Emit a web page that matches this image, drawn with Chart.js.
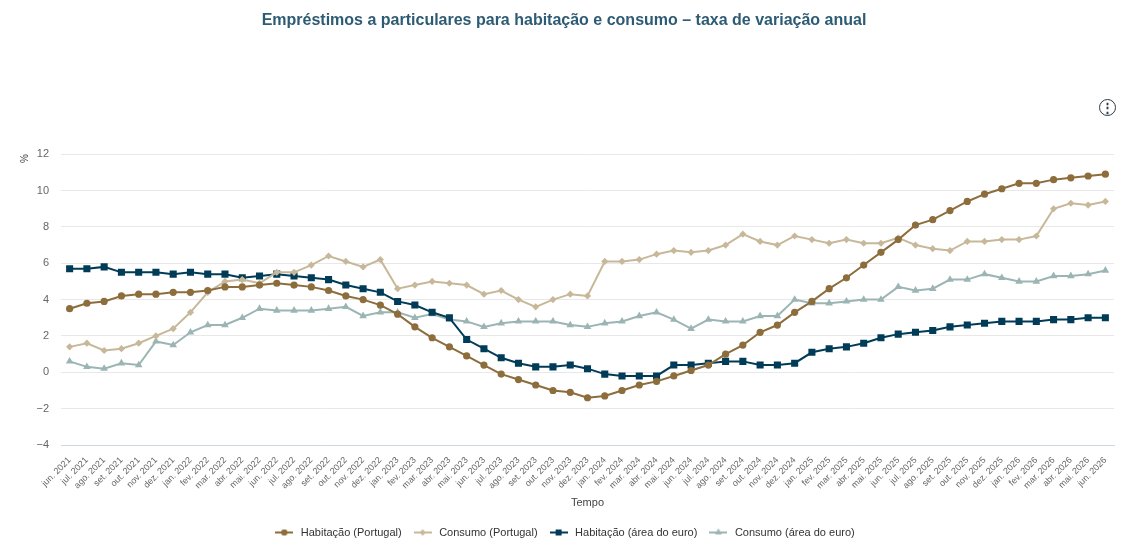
<!DOCTYPE html>
<html lang="pt">
<head>
<meta charset="utf-8">
<title>Empréstimos a particulares</title>
<script src="https://cdn.jsdelivr.net/npm/chart.js@4.4.1/dist/chart.umd.min.js"></script>
<style>
  html, body { margin: 0; padding: 0; background: #fff; }
  #wrap { position: relative; width: 1123px; height: 557px; }
  #menu {
    position: absolute; left: 1099px; top: 99px; width: 15px; height: 15px;
    border: 1.5px solid #2b3a44; border-radius: 50%;
    font: bold 13px "Liberation Sans", Arial, sans-serif; color: #2b3a44;
    text-align: center; line-height: 15px;
  }
</style>
</head>
<body>
<div id="wrap">
  <canvas id="grafico" width="1123" height="557"></canvas>
  <div id="menu">&#8942;</div>
</div>
<script>
// meses: jun. 2021 ... jun. 2026
const meses = [
  "jun. 2021", "jul. 2021", "ago. 2021", "set. 2021", "out. 2021", "nov. 2021", "dez. 2021",
  "jan. 2022", "fev. 2022", "mar. 2022", "abr. 2022", "mai. 2022", "jun. 2022",
  "jul. 2022", "ago. 2022", "set. 2022", "out. 2022", "nov. 2022", "dez. 2022",
  "jan. 2023", "fev. 2023", "mar. 2023", "abr. 2023", "mai. 2023", "jun. 2023",
  "jul. 2023", "ago. 2023", "set. 2023", "out. 2023", "nov. 2023", "dez. 2023",
  "jan. 2024", "fev. 2024", "mar. 2024", "abr. 2024", "mai. 2024", "jun. 2024",
  "jul. 2024", "ago. 2024", "set. 2024", "out. 2024", "nov. 2024", "dez. 2024",
  "jan. 2025", "fev. 2025", "mar. 2025", "abr. 2025", "mai. 2025", "jun. 2025",
  "jul. 2025", "ago. 2025", "set. 2025", "out. 2025", "nov. 2025", "dez. 2025",
  "jan. 2026", "fev. 2026", "mar. 2026", "abr. 2026", "mai. 2026", "jun. 2026"
];

const habitacaoPT = [
  3.5, 3.8, 3.9, 4.2, 4.3, 4.3, 4.4,
  4.4, 4.5, 4.7, 4.7, 4.8, 4.9, 4.8, 4.7, 4.5, 4.2, 4.0, 3.7,
  3.2, 2.5, 1.9, 1.4, 0.9, 0.4, -0.1, -0.4, -0.7, -1.0, -1.1, -1.4,
  -1.3, -1.0, -0.7, -0.5, -0.2, 0.1, 0.4, 1.0, 1.5, 2.2, 2.6, 3.3,
  3.9, 4.6, 5.2, 5.9, 6.6, 7.3, 8.1, 8.4, 8.9, 9.4, 9.8, 10.1,
  10.4, 10.4, 10.6, 10.7, 10.8, 10.9
];

const consumoPT = [
  1.4, 1.6, 1.2, 1.3, 1.6, 2.0, 2.4,
  3.3, 4.4, 5.0, 5.1, 4.9, 5.5, 5.5, 5.9, 6.4, 6.1, 5.8, 6.2,
  4.6, 4.8, 5.0, 4.9, 4.8, 4.3, 4.5, 4.0, 3.6, 4.0, 4.3, 4.2,
  6.1, 6.1, 6.2, 6.5, 6.7, 6.6, 6.7, 7.0, 7.6, 7.2, 7.0, 7.5,
  7.3, 7.1, 7.3, 7.1, 7.1, 7.4, 7.0, 6.8, 6.7, 7.2, 7.2, 7.3,
  7.3, 7.5, 9.0, 9.3, 9.2, 9.4
];

const habitacaoEA = [
  5.7, 5.7, 5.8, 5.5, 5.5, 5.5, 5.4,
  5.5, 5.4, 5.4, 5.2, 5.3, 5.4, 5.3, 5.2, 5.1, 4.8, 4.6, 4.4,
  3.9, 3.7, 3.3, 3.0, 1.8, 1.3, 0.8, 0.5, 0.3, 0.3, 0.4, 0.2,
  -0.1, -0.2, -0.2, -0.2, 0.4, 0.4, 0.5, 0.6, 0.6, 0.4, 0.4, 0.5,
  1.1, 1.3, 1.4, 1.6, 1.9, 2.1, 2.2, 2.3, 2.5, 2.6, 2.7, 2.8,
  2.8, 2.8, 2.9, 2.9, 3.0, 3.0
];

const consumoEA = [
  0.6, 0.3, 0.2, 0.5, 0.4, 1.7, 1.5,
  2.2, 2.6, 2.6, 3.0, 3.5, 3.4, 3.4, 3.4, 3.5, 3.6, 3.1, 3.3,
  3.3, 3.0, 3.2, 2.9, 2.8, 2.5, 2.7, 2.8, 2.8, 2.8, 2.6, 2.5,
  2.7, 2.8, 3.1, 3.3, 2.9, 2.4, 2.9, 2.8, 2.8, 3.1, 3.1, 4.0,
  3.8, 3.8, 3.9, 4.0, 4.0, 4.7, 4.5, 4.6, 5.1, 5.1, 5.4, 5.2,
  5.0, 5.0, 5.3, 5.3, 5.4, 5.6
];

const series = [
  { nome: "Habitação (Portugal)", dados: habitacaoPT, cor: "#8c6d3b", ponto: "circle", raio: 3.6 },
  { nome: "Consumo (Portugal)", dados: consumoPT, cor: "#c8b89a", ponto: "rectRot", raio: 3.6 },
  { nome: "Habitação (área do euro)", dados: habitacaoEA, cor: "#003b57", ponto: "rect", raio: 5 },
  { nome: "Consumo (área do euro)", dados: consumoEA, cor: "#9bb5b4", ponto: "triangle", raio: 4.4 }
];

const fonte = "'Liberation Sans', Arial, sans-serif";

// ícone da legenda: linha com marcador ao centro
function iconeLegenda(s) {
  const c = document.createElement("canvas");
  c.width = 18; c.height = 10;
  const g = c.getContext("2d");
  g.strokeStyle = s.cor;
  g.lineWidth = 2;
  g.beginPath(); g.moveTo(0, 5); g.lineTo(18, 5); g.stroke();
  g.fillStyle = s.cor;
  Chart.helpers.drawPoint(g, { pointStyle: s.ponto, radius: s.raio * 0.85, borderWidth: 0 }, 9, 5);
  g.fill();
  return c;
}

const ctx = document.getElementById("grafico").getContext("2d");

const grafico = new Chart(ctx, {
  type: "line",
  data: {
    labels: meses,
    datasets: series.map(s => ({
      label: s.nome,
      data: s.dados,
      borderColor: s.cor,
      backgroundColor: s.cor,
      borderWidth: 2,
      pointStyle: s.ponto,
      pointRadius: s.raio,
      pointHoverRadius: s.raio + 1,
      pointBorderWidth: 0,
      tension: 0,
      fill: false
    }))
  },
  options: {
    responsive: false,
    animation: false,
    layout: { padding: { left: 14, right: 9, top: 0, bottom: 9 } },
    plugins: {
      title: {
        display: true,
        text: "Empréstimos a particulares para habitação e consumo – taxa de variação anual",
        color: "#2e5b74",
        font: { family: fonte, size: 16, weight: "bold" },
        padding: { top: 11, bottom: 124 }
      },
      legend: {
        position: "bottom",
        labels: {
          color: "#333",
          font: { family: fonte, size: 11 },
          usePointStyle: true,
          pointStyleWidth: 22,
          padding: 10,
          generateLabels: chart => series.map((s, i) => ({
            text: s.nome,
            fillStyle: s.cor,
            strokeStyle: s.cor,
            fontColor: "#333",
            pointStyle: iconeLegenda(s),
            datasetIndex: i,
            hidden: !chart.isDatasetVisible(i)
          }))
        }
      },
      tooltip: { enabled: true }
    },
    scales: {
      x: {
        offset: true,
        grid: { display: false },
        border: { color: "#ccd6eb" },
        ticks: {
          autoSkip: false,
          maxRotation: 45,
          minRotation: 45,
          color: "#666",
          font: { family: fonte, size: 9 },
          padding: 2
        },
        title: {
          display: true,
          text: "Tempo",
          color: "#444",
          font: { family: fonte, size: 11 },
          padding: { top: 2, bottom: 7 }
        },
        // rótulos inclinados: não reservar margem extra à esquerda
        afterFit: s => {
          s.paddingLeft = 0;
          s.height = 72;
        }
      },
      y: {
        min: -4,
        max: 12,
        ticks: {
          stepSize: 2,
          color: "#666",
          font: { family: fonte, size: 11 },
          padding: 12,
          callback: v => v < 0 ? "\u2212" + Math.abs(v) : v
        },
        grid: { color: "#e8e8e8", drawTicks: false },
        border: { display: false },
        title: {
          display: true,
          text: "%",
          align: "end",
          color: "#444",
          font: { family: fonte, size: 10 },
          padding: { top: 5, bottom: 5 }
        },
        afterFit: s => {
          s.width = 47;
        }
      }
    }
  }
});
</script>
</body>
</html>
